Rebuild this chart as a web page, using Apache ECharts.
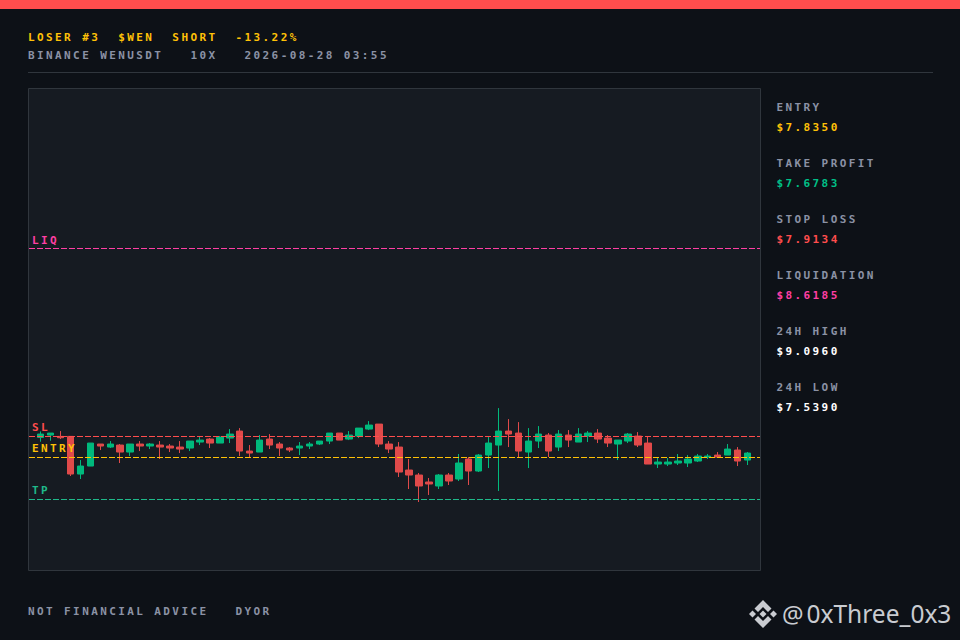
<!DOCTYPE html>
<html><head><meta charset="utf-8">
<style>
html,body{margin:0;padding:0;background:#0d1117;}
#c{width:960px;height:640px;}
svg text{letter-spacing:2.4px;white-space:pre;}
svg text[fill="#c9ccd1"],svg text[style*="Noto Sans"]{letter-spacing:0;}
</style>
<script src="https://cdn.jsdelivr.net/npm/echarts@6/dist/echarts.min.js"></script>
</head><body><div id="c"></div>
<script>
const opens=[7.9099,7.9187,7.9137,7.9137,7.7725,7.8025,7.8850,7.8737,7.8812,7.8550,7.8850,7.8775,7.8812,7.8775,7.8737,7.8700,7.8925,7.9037,7.8887,7.9074,7.9337,7.8587,7.8550,7.9037,7.8850,7.8700,7.8700,7.8775,7.8850,7.8962,7.9262,7.9037,7.9149,7.9412,7.9599,7.8850,7.8737,7.7875,7.7688,7.7426,7.7276,7.7688,7.7538,7.8288,7.7838,7.8437,7.8812,7.9337,7.9262,7.8550,7.8962,7.9187,7.8737,7.9187,7.8925,7.9149,7.9262,7.9074,7.8850,7.8962,7.9149,7.8887,7.8100,7.8100,7.8138,7.8138,7.8213,7.8362,7.8437,7.8437,7.8625,7.8250];
const closes=[7.9224,7.9262,7.9087,7.7725,7.8025,7.8887,7.8775,7.8850,7.8550,7.8850,7.8775,7.8850,7.8737,7.8700,7.8662,7.8962,7.8999,7.8887,7.9112,7.9224,7.8587,7.8512,7.8999,7.8812,7.8700,7.8625,7.8775,7.8850,7.8962,7.9262,7.8999,7.9187,7.9449,7.9562,7.8850,7.8662,7.7800,7.7688,7.7276,7.7351,7.7688,7.7463,7.8138,7.7838,7.8437,7.8887,7.9337,7.9224,7.8587,7.8962,7.9224,7.8587,7.9224,7.8999,7.9224,7.9262,7.9037,7.8887,7.8999,7.9224,7.8812,7.8100,7.8175,7.8175,7.8213,7.8288,7.8400,7.8400,7.8362,7.8662,7.8213,7.8512];
const lows=[7.8937,7.8975,7.9037,7.7651,7.7538,7.8025,7.8625,7.8700,7.8138,7.8400,7.8587,7.8662,7.8288,7.8550,7.8512,7.8587,7.8812,7.8700,7.8887,7.8887,7.8400,7.8362,7.8550,7.8662,7.8400,7.8550,7.8437,7.8662,7.8812,7.8850,7.8999,7.8999,7.9074,7.9374,7.8737,7.8512,7.7613,7.7163,7.6676,7.6939,7.7163,7.7313,7.7463,7.7313,7.7800,7.7950,7.7089,7.8737,7.8362,7.7950,7.8700,7.8362,7.8587,7.8737,7.8925,7.8925,7.8887,7.8737,7.8250,7.8887,7.8737,7.8100,7.7950,7.8025,7.8063,7.7988,7.8175,7.8288,7.8362,7.8437,7.8025,7.8063];
const highs=[7.9324,7.9262,7.9337,7.9137,7.8250,7.8887,7.8850,7.8962,7.8850,7.8850,7.8962,7.8887,7.8962,7.8850,7.8962,7.8962,7.9112,7.9074,7.9149,7.9412,7.9449,7.8812,7.9187,7.9224,7.8925,7.8737,7.8925,7.8925,7.8962,7.9262,7.9262,7.9337,7.9449,7.9711,7.9599,7.8962,7.8925,7.8288,7.7763,7.7576,7.7725,7.7763,7.8475,7.8362,7.8475,7.9112,8.0199,7.9786,7.9674,7.9449,7.9524,7.9262,7.9374,7.9374,7.9449,7.9337,7.9412,7.9187,7.8999,7.9262,7.9299,7.9149,7.8362,7.8325,7.8475,7.8437,7.8475,7.8475,7.8550,7.8850,7.8737,7.8550];
const levelNames=['LIQ','SL','ENTRY','TP'];
const levelValues=[8.6185,7.9134,7.8350,7.6783];
const levelColors=['#ff3fa4','#ff4d4d','#ffc107','#1fb98a'];
const headerLine1='LOSER #3  $WEN  SHORT  -13.22%';
const headerLine2='BINANCE WENUSDT   10X   2026-08-28 03:55';
const footerText='NOT FINANCIAL ADVICE   DYOR';
const sideLabels=['ENTRY','TAKE PROFIT','STOP LOSS','LIQUIDATION','24H HIGH','24H LOW'];
const sideValues=['$7.8350','$7.6783','$7.9134','$8.6185','$9.0960','$7.5390'];
const sideColors=['#ffc107','#00c087','#ff4d4d','#ff3fa4','#ffffff','#ffffff'];
const watermarkAt='@';
const watermarkHandle='0xThree_0x3';

const FONT='bold 11px "DejaVu Sans Mono"';
const GREY='#8b92a5';
const label=(x,y,text,fill)=>({type:'text',x,y,z:10,style:{text,fill,font:FONT,textVerticalAlign:'middle',textAlign:'left'}});
const logoShapes=[
 [[0,-14],[8.5,-5.5],[5,-2],[0,-7],[-5,-2],[-8.5,-5.5]],
 [[0,14],[8.5,5.5],[5,2],[0,7],[-5,2],[-8.5,5.5]],
 [[0,-3.5],[3.5,0],[0,3.5],[-3.5,0]],
 [[-10.5,-3.5],[-7,0],[-10.5,3.5],[-14,0]],
 [[10.5,-3.5],[14,0],[10.5,3.5],[7,0]]
];

const els=[
 {type:'rect',shape:{x:0,y:0,width:960,height:9},style:{fill:'#ff4d4d'},z:1},
 label(28,37.5,headerLine1,'#ffc107'),
 label(28,55.5,headerLine2,GREY),
 {type:'line',shape:{x1:28,y1:72.5,x2:933,y2:72.5},style:{stroke:'#30363d',lineWidth:1},z:1},
 {type:'rect',shape:{x:28.5,y:88.5,width:732,height:482},style:{fill:'#161b22',stroke:'#30363d',lineWidth:1},z:-1},
 label(28,611.5,footerText,GREY),
 {type:'text',x:782,y:613.5,z:10,style:{text:watermarkAt,fill:'#c9ccd1',font:'24px "Noto Sans"',textVerticalAlign:'middle',textAlign:'left'}},
 {type:'text',x:806.5,y:613.5,z:10,style:{text:watermarkHandle,fill:'#c9ccd1',font:'24.5px "Noto Sans"',textVerticalAlign:'middle',textAlign:'left'}}
];
logoShapes.forEach(points=>els.push({type:'polygon',x:763,y:614,z:10,shape:{points},style:{fill:'#c9ccd1'}}));
sideLabels.forEach((t,i)=>{
 els.push(label(776.5,107.5+56*i,t,GREY));
 els.push(label(776.5,127.5+56*i,sideValues[i],sideColors[i]));
});

const candleData=opens.map((o,i)=>[i,o,closes[i],lows[i],highs[i]]);
const step=9.958,first=40.55,pLeft=29,pRight=760;
const levelSeries=levelValues.map((v,i)=>({
 type:'line',name:levelNames[i],data:[],z:5,silent:true,
 markLine:{
  silent:true,symbol:'none',animation:false,z:5,precision:4,
  lineStyle:{color:levelColors[i],type:[6,2],width:1,opacity:1},
  label:{show:true,formatter:levelNames[i],position:'insideStartTop',distance:[3,3],color:levelColors[i],fontFamily:'DejaVu Sans Mono',fontWeight:'bold',fontSize:11},
  emphasis:{disabled:true},
  data:[{yAxis:v}]
 }
}));
const chart=echarts.init(document.getElementById('c'),null,{renderer:'svg',width:960,height:640});
chart.setOption({
 animation:false,
 backgroundColor:'#0d1117',
 grid:{left:pLeft,right:960-pRight,top:88,height:481.5,containLabel:false},
 xAxis:{type:'value',min:(pLeft-first)/step,max:(pRight-first)/step,show:false,splitLine:{show:false}},
 yAxis:{type:'value',min:7.4144,max:9.2206,show:false,splitLine:{show:false}},
 graphic:{elements:els},
 series:[{
  type:'candlestick',
  z:2,
  data:candleData,
  encode:{x:0,y:[1,2,3,4]},
  barWidth:7,
  itemStyle:{color:'#00b97c',color0:'#e04a4a',borderColor:'#00b97c',borderColor0:'#e04a4a',borderWidth:1}
 }].concat(levelSeries)
});
</script></body></html>
